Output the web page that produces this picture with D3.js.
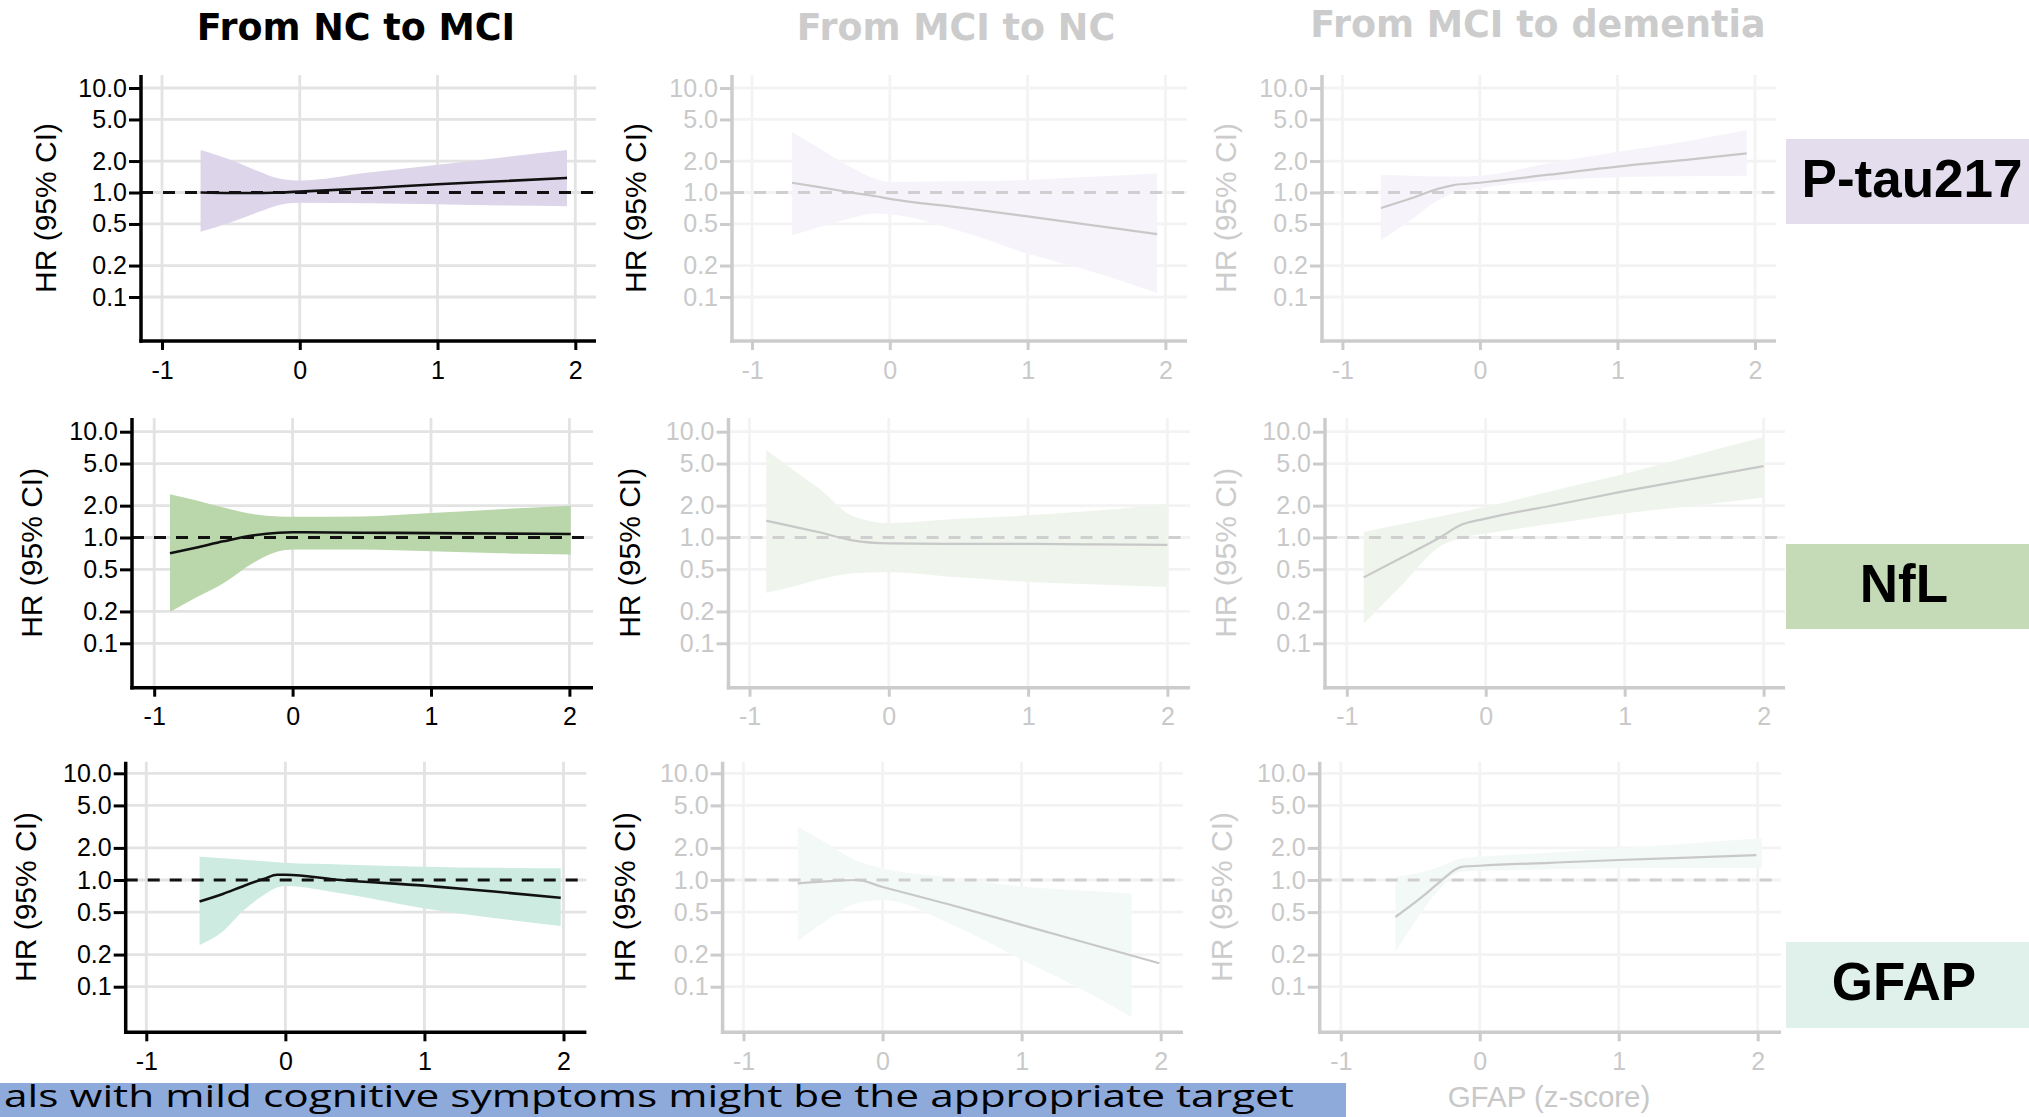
<!DOCTYPE html>
<html><head><meta charset="utf-8">
<script src="https://cdn.jsdelivr.net/npm/d3@7"></script>
<style>body{margin:0;background:#fff;} svg{display:block;}</style>
</head><body>
<svg id="c" width="2029" height="1117"></svg>
<script>
// ---------- text / categories ----------
const columnTitles = ["From NC to MCI", "From MCI to NC", "From MCI to dementia"];
const markerNames = ["P-tau217", "NfL", "GFAP"];
const yAxisTitle = "HR (95% CI)";
const xAxisTitle = "GFAP (z-score)";
const yTickValues = [0.1, 0.2, 0.5, 1, 2, 5, 10];
const yTickLabels = ["0.1", "0.2", "0.5", "1.0", "2.0", "5.0", "10.0"];
const xTickValues = [-1, 0, 1, 2];
const xTickLabels = ["-1", "0", "1", "2"];
const referenceHR = 1;
const bannerText = "als with mild cognitive symptoms might be the appropriate target";

// ---------- P-tau217 ----------
const ptauNcMciX  = [-0.72, -0.5, -0.3, -0.15, 0, 0.5, 1, 1.5, 1.94];
const ptauNcMciHR = [1.0, 0.99, 0.99, 1.0, 1.02, 1.1, 1.2, 1.29, 1.38];
const ptauNcMciLo = [0.42, 0.52, 0.65, 0.76, 0.8, 0.79, 0.77, 0.75, 0.74];
const ptauNcMciHi = [2.55, 2.05, 1.6, 1.36, 1.3, 1.55, 1.84, 2.19, 2.55];

const ptauMciNcX  = [-0.71, -0.5, -0.3, -0.1, 0, 0.5, 1, 1.5, 1.94];
const ptauMciNcHR = [1.24, 1.12, 1.01, 0.92, 0.87, 0.72, 0.59, 0.48, 0.40];
const ptauMciNcLo = [0.39, 0.47, 0.56, 0.63, 0.62, 0.43, 0.26, 0.17, 0.11];
const ptauMciNcHi = [3.8, 2.6, 1.8, 1.35, 1.27, 1.28, 1.32, 1.42, 1.53];

const ptauMciDemX  = [-0.72, -0.5, -0.3, -0.2, 0, 0.5, 1, 1.5, 1.94];
const ptauMciDemHR = [0.71, 0.88, 1.09, 1.17, 1.24, 1.48, 1.77, 2.05, 2.37];
const ptauMciDemLo = [0.35, 0.55, 0.85, 0.98, 1.1, 1.3, 1.4, 1.43, 1.45];
const ptauMciDemHi = [1.47, 1.45, 1.42, 1.42, 1.45, 1.9, 2.45, 3.1, 3.96];

// ---------- NfL ----------
const nflNcMciX  = [-0.886, -0.7, -0.5, -0.28, -0.1, 0, 0.5, 1, 1.5, 2.01];
const nflNcMciHR = [0.71, 0.8, 0.92, 1.05, 1.11, 1.12, 1.11, 1.1, 1.09, 1.08];
const nflNcMciLo = [0.198, 0.27, 0.37, 0.58, 0.74, 0.77, 0.77, 0.74, 0.71, 0.69];
const nflNcMciHi = [2.57, 2.25, 1.92, 1.66, 1.58, 1.57, 1.58, 1.7, 1.85, 2.0];

const nflMciNcX  = [-0.88, -0.7, -0.5, -0.26, 0, 0.5, 1, 1.5, 2.0];
const nflMciNcHR = [1.44, 1.28, 1.12, 0.94, 0.88, 0.87, 0.87, 0.86, 0.85];
const nflMciNcLo = [0.30, 0.34, 0.40, 0.46, 0.47, 0.42, 0.38, 0.36, 0.34];
const nflMciNcHi = [6.7, 4.5, 2.9, 1.6, 1.37, 1.5, 1.62, 1.8, 2.06];

const nflMciDemX  = [-0.878, -0.6, -0.33, -0.18, 0, 0.5, 1, 1.5, 2.0];
const nflMciDemHR = [0.42, 0.65, 1.0, 1.31, 1.51, 2.03, 2.74, 3.6, 4.72];
const nflMciDemLo = [0.154, 0.36, 0.82, 0.99, 1.09, 1.36, 1.69, 2.0, 2.39];
const nflMciDemHi = [1.13, 1.34, 1.58, 1.74, 1.95, 2.8, 4.0, 6.0, 8.9];

// ---------- GFAP ----------
const gfapNcMciX  = [-0.617, -0.45, -0.3, -0.15, -0.06, 0, 0.4, 1, 1.5, 1.98];
const gfapNcMciHR = [0.63, 0.74, 0.88, 1.03, 1.12, 1.12, 1.0, 0.885, 0.78, 0.68];
const gfapNcMciLo = [0.246, 0.33, 0.52, 0.73, 0.85, 0.88, 0.75, 0.54, 0.44, 0.37];
const gfapNcMciHi = [1.65, 1.6, 1.55, 1.5, 1.47, 1.45, 1.4, 1.33, 1.3, 1.29];

const gfapMciNcLineX = [-0.61, -0.4, -0.185, 0, 0.5, 1, 1.5, 1.99];
const gfapMciNcHR    = [0.93, 0.97, 1.0, 0.86, 0.58, 0.38, 0.25, 0.166];
const gfapMciNcBandX = [-0.61, -0.4, -0.2, 0, 0.5, 1, 1.5, 1.79];
const gfapMciNcLo    = [0.27, 0.42, 0.6, 0.65, 0.38, 0.18, 0.085, 0.052];
const gfapMciNcHi    = [3.16, 2.2, 1.54, 1.29, 1.05, 0.87, 0.79, 0.75];

const gfapMciDemLineX = [-0.607, -0.4, -0.3, -0.13, 0, 0.5, 1, 1.5, 1.99];
const gfapMciDemHR    = [0.45, 0.72, 0.93, 1.33, 1.36, 1.45, 1.54, 1.62, 1.71];
const gfapMciDemBandX = [-0.607, -0.4, -0.3, -0.13, 0, 0.5, 1, 1.5, 2.03];
const gfapMciDemLo    = [0.21, 0.54, 0.8, 1.2, 1.22, 1.26, 1.29, 1.3, 1.3];
const gfapMciDemHi    = [1.07, 1.2, 1.32, 1.59, 1.65, 1.8, 1.98, 2.2, 2.46];

// ---------- layout & style ----------
const bandColors  = [["#ddd5ea", "#f6f4fa", "#f6f4fa"], ["#bad6ab", "#eff5ec", "#eff5ec"], ["#cdebe1", "#f2f9f6", "#f2f9f6"]];
const markerBoxColors = ["#e4ddee", "#c5dbb7", "#dff1ea"];
const rowGeom = [
  {y10: 88, y01: 297, top: 75, bottom: 341, box: [139, 224], labelY: 197},
  {y10: 431.7, y01: 643.3, top: 418, bottom: 687.7, box: [544, 629], labelY: 602},
  {y10: 773.3, y01: 986.7, top: 761.7, bottom: 1032.3, box: [942, 1028], labelY: 1000}
];
// [axisX, x(-1), x(2), xEnd, yTitleX]
const colGeom = [
  [[141, 162, 575.3, 596, 45.5], [732, 752, 1165.4, 1187, 635.6], [1322, 1342.4, 1755, 1776, 1226]],
  [[132, 154.2, 569.4, 593, 31.6], [728.5, 749.5, 1167.4, 1190, 629.7], [1325, 1346.8, 1763.6, 1785, 1226]],
  [[125.7, 146.3, 563.5, 586.4, 25.7], [722.6, 743.5, 1160.7, 1183, 624.5], [1319.7, 1340.8, 1757.7, 1781, 1222]]
];

const panels = [
  [ {lx: ptauNcMciX, hr: ptauNcMciHR, bx: ptauNcMciX, lo: ptauNcMciLo, hi: ptauNcMciHi},
    {lx: ptauMciNcX, hr: ptauMciNcHR, bx: ptauMciNcX, lo: ptauMciNcLo, hi: ptauMciNcHi},
    {lx: ptauMciDemX, hr: ptauMciDemHR, bx: ptauMciDemX, lo: ptauMciDemLo, hi: ptauMciDemHi} ],
  [ {lx: nflNcMciX, hr: nflNcMciHR, bx: nflNcMciX, lo: nflNcMciLo, hi: nflNcMciHi},
    {lx: nflMciNcX, hr: nflMciNcHR, bx: nflMciNcX, lo: nflMciNcLo, hi: nflMciNcHi},
    {lx: nflMciDemX, hr: nflMciDemHR, bx: nflMciDemX, lo: nflMciDemLo, hi: nflMciDemHi} ],
  [ {lx: gfapNcMciX, hr: gfapNcMciHR, bx: gfapNcMciX, lo: gfapNcMciLo, hi: gfapNcMciHi},
    {lx: gfapMciNcLineX, hr: gfapMciNcHR, bx: gfapMciNcBandX, lo: gfapMciNcLo, hi: gfapMciNcHi},
    {lx: gfapMciDemLineX, hr: gfapMciDemHR, bx: gfapMciDemBandX, lo: gfapMciDemLo, hi: gfapMciDemHi} ]
];

const FONT = "'Liberation Sans', Arial, Helvetica, sans-serif";
const svg = d3.select("#c");

// column titles
const titleX = [356, 956, 1538];
const titleY = [40, 40, 37];
columnTitles.forEach((t, i) => {
  svg.append("text").attr("x", titleX[i]).attr("y", titleY[i])
    .attr("text-anchor", "middle")
    .attr("font-family", "'DejaVu Sans', sans-serif").attr("font-weight", "bold")
    .attr("font-size", 36.5)
    .attr("fill", i === 0 ? "#000" : "#cccccc")
    .text(t);
});

panels.forEach((rowPanels, r) => {
  const rg = rowGeom[r];
  rowPanels.forEach((p, c) => {
    const [axisX, xm1, x2, xEnd, yTitleX] = colGeom[r][c];
    const active = c === 0;
    const ink = active ? "#000" : "#cccccc";
    const tickInk = active ? "#000" : "#c9c9c9";
    const gridCol = active ? "#e3e3e3" : "#f3f3f3";
    const x = d3.scaleLinear().domain([-1, 2]).range([xm1, x2]);
    const y = d3.scaleLog().domain([0.1, 10]).range([rg.y01, rg.y10]);
    const g = svg.append("g");

    // grid
    g.append("g").selectAll("line").data(yTickValues).join("line")
      .attr("x1", axisX).attr("x2", xEnd).attr("y1", d => y(d)).attr("y2", d => y(d))
      .attr("stroke", gridCol).attr("stroke-width", 2.8);
    g.append("g").selectAll("line").data(xTickValues).join("line")
      .attr("x1", d => x(d)).attr("x2", d => x(d)).attr("y1", rg.top).attr("y2", rg.bottom)
      .attr("stroke", gridCol).attr("stroke-width", 2.8);

    // band
    const bandData = p.bx.map((v, i) => ({x: v, lo: p.lo[i], hi: p.hi[i]}));
    g.append("path").datum(bandData)
      .attr("d", d3.area().curve(d3.curveMonotoneX).x(d => x(d.x)).y0(d => y(d.lo)).y1(d => y(d.hi)))
      .attr("fill", bandColors[r][c]);

    // reference line
    g.append("line").attr("x1", axisX).attr("x2", xEnd)
      .attr("y1", y(referenceHR)).attr("y2", y(referenceHR))
      .attr("stroke", active ? "#111" : "#cfcfcf").attr("stroke-width", 3)
      .attr("stroke-dasharray", "12,10");

    // estimate line
    const lineData = p.lx.map((v, i) => ({x: v, hr: p.hr[i]}));
    g.append("path").datum(lineData)
      .attr("d", d3.line().curve(d3.curveMonotoneX).x(d => x(d.x)).y(d => y(d.hr)))
      .attr("fill", "none").attr("stroke", active ? "#111" : "#c8c8c8")
      .attr("stroke-width", active ? 2.6 : 2.2);

    // axes
    const ay = g.append("g").attr("transform", `translate(${axisX},0)`)
      .call(d3.axisLeft(y).tickValues(yTickValues).tickFormat((d, i) => yTickLabels[i])
        .tickSize(12).tickPadding(2));
    const ax = g.append("g").attr("transform", `translate(0,${rg.bottom})`)
      .call(d3.axisBottom(x).tickValues(xTickValues).tickFormat((d, i) => xTickLabels[i])
        .tickSize(9).tickPadding(11));
    [ay, ax].forEach(a => {
      a.select(".domain").remove();
      a.selectAll(".tick line").attr("stroke", ink).attr("stroke-width", 3);
      a.selectAll(".tick text").attr("fill", tickInk).attr("font-family", FONT).attr("font-size", 25);
    });
    // axis lines
    g.append("line").attr("x1", axisX).attr("x2", axisX).attr("y1", rg.top).attr("y2", rg.bottom + 1.7)
      .attr("stroke", ink).attr("stroke-width", 3.5);
    g.append("line").attr("x1", axisX - 1.7).attr("x2", xEnd).attr("y1", rg.bottom).attr("y2", rg.bottom)
      .attr("stroke", ink).attr("stroke-width", 3.5);

    // y title
    const cy = (rg.top + rg.bottom) / 2;
    g.append("text").attr("transform", `translate(${yTitleX + 10},${cy}) rotate(-90)`)
      .attr("text-anchor", "middle").attr("font-family", FONT).attr("font-size", 30)
      .attr("fill", c === 2 ? "#cccccc" : "#000").text(yAxisTitle);
  });

  // marker box
  svg.append("rect").attr("x", 1786).attr("y", rg.box[0]).attr("width", 2029 - 1786)
    .attr("height", rg.box[1] - rg.box[0]).attr("fill", markerBoxColors[r]);
  svg.append("text").attr("x", r === 0 ? 1912 : 1904).attr("y", rg.labelY)
    .attr("text-anchor", "middle").attr("font-family", FONT).attr("font-weight", "bold")
    .attr("font-size", 53).attr("fill", "#000").text(markerNames[r]);
});

// x-axis title (bottom right panel)
svg.append("text").attr("x", 1549).attr("y", 1107).attr("text-anchor", "middle")
  .attr("font-family", FONT).attr("font-size", 29.5).attr("fill", "#c8c8c8").text(xAxisTitle);

// bottom banner
svg.append("rect").attr("x", 0).attr("y", 1083).attr("width", 1346).attr("height", 40).attr("fill", "#8eaadb");
svg.append("text").attr("x", 4).attr("y", 1107).attr("font-family", "'Open Sans', sans-serif")
  .attr("font-size", 31).attr("fill", "#000")
  .attr("textLength", 1290).attr("lengthAdjust", "spacingAndGlyphs").text(bannerText);
</script>
</body></html>
